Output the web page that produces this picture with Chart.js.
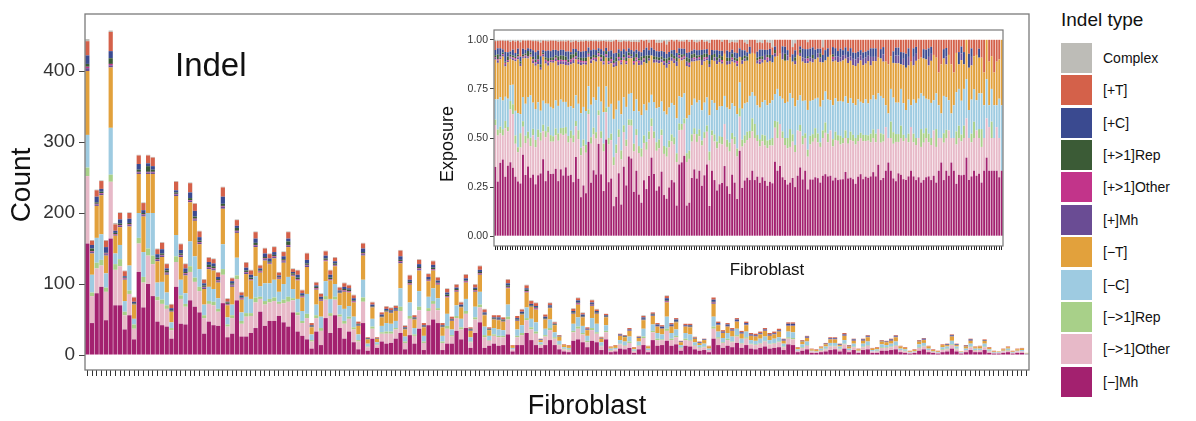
<!DOCTYPE html>
<html>
<head>
<meta charset="utf-8">
<title>Indel counts per fibroblast</title>
<script src="https://cdn.jsdelivr.net/npm/chart.js@4.4.1/dist/chart.umd.min.js"></script>
<style>
  body { margin: 0; background: #fff; font-family: "Liberation Sans", Arial, Helvetica, sans-serif; }
  #wrap { position: relative; width: 1196px; height: 421px; overflow: hidden; }
  #mainBox { position: absolute; left: 0; top: 0; width: 1040px; height: 421px; }
  #insetBox { position: absolute; left: 425px; top: 22px; width: 585px; height: 262px; }
  .txt { position: absolute; color: #111; white-space: nowrap; text-align: center; }
  #panelLabel { left: 175px; top: 48px; font-size: 33px; line-height: 33px; text-align: left; }
  #countTitle { left: -79px; top: 171px; width: 200px; font-size: 28px; line-height: 28px; transform: rotate(-90deg); }
  #mainXTitle { left: 437px; top: 392px; width: 300px; font-size: 27px; line-height: 27px; }
  #expTitle { left: 347px; top: 135px; width: 200px; font-size: 18px; line-height: 18px; transform: rotate(-90deg); }
  #insetXTitle { left: 667px; top: 261px; width: 200px; font-size: 17px; line-height: 17px; }
  #legend { position: absolute; left: 1061px; top: 0; width: 135px; height: 421px; color: #111; }
  #legend .lg-title { position: absolute; left: 0; top: 10px; font-size: 19px; line-height: 19px; white-space: nowrap; }
  #legend .lg-item { position: absolute; left: 0; height: 30px; width: 135px; }
  #legend .lg-swatch { position: absolute; left: 0; top: 0; width: 31px; height: 30px; }
  #legend .lg-text { position: absolute; left: 42px; top: 0; font-size: 14px; line-height: 30px; white-space: nowrap; }
</style>
</head>
<body>
<div id="wrap">
  <div id="mainBox"><canvas id="countChart"></canvas></div>
  <div id="panelLabel" class="txt">Indel</div>
  <div id="countTitle" class="txt">Count</div>
  <div id="mainXTitle" class="txt">Fibroblast</div>
  <div id="insetBox"><canvas id="exposureChart"></canvas></div>
  <div id="expTitle" class="txt">Exposure</div>
  <div id="insetXTitle" class="txt">Fibroblast</div>
  <div id="legend"><div class="lg-title">Indel type</div></div>
</div>
<script>
// counts per fibroblast sample, one array per indel type (bottom of stack first)
const mhDel = [
  157,45,87,96,49,164,70,70,36,56, 22,117,67,100,83,47,42,40,23,96, 44,43,77,68,60,30,47,42,41,73,
  25,30,77,26,26,31,38,61,41,48, 48,55,46,40,60,33,27,22,9,33, 14,52,31,56,38,23,33,18,8,45,
  6,23,10,19,16,17,23,31,8,28, 16,37,7,42,50,45,7,16,16,34, 22,38,10,31,46,10,13,16,13,14,
  29,5,14,14,31,21,14,10,14,21, 14,8,5,4,20,22,18,11,20,18, 7,22,4,5,9,8,10,3,8,14,
  4,21,13,14,20,13,15,6,13,12, 8,6,7,4,23,14,10,13,11,17, 10,14,9,8,10,12,9,10,11,7,
  15,14,4,6,8,3,3,4,5,7, 8,5,9,4,7,3,7,8,3,3, 6,6,7,8,4,3,2,3,6,8,
  4,3,2,4,5,9,5,2,4,7, 4,4,7,3,2,2,3,4,2,3, 3,1
];
const otherDel = [
  95,38,35,30,40,80,50,55,20,30, 15,40,35,40,45,30,30,25,12,35, 35,25,40,35,30,22,25,28,20,40,
  15,22,30,18,28,24,36,18,30,26, 28,17,27,35,17,23,18,30,10,19, 20,26,24,22,16,21,18,18,11,30,
  5,14,4,11,14,13,13,31,9,23, 11,26,10,20,22,18,10,21,10,18, 14,20,8,19,21,15,7,11,12,11,
  21,3,11,14,18,15,16,4,12,14, 9,6,3,3,12,15,11,7,15,12, 5,10,2,3,6,5,7,2,5,10,
  3,11,8,7,14,8,10,4,8,8, 5,4,4,3,14,9,7,8,7,9, 6,9,6,6,6,7,6,6,7,4,
  8,8,2,4,5,2,1,2,3,5, 4,3,6,3,4,2,4,5,2,2, 4,4,4,5,3,2,1,1,4,4,
  3,1,1,3,3,5,3,1,3,4, 2,3,4,2,1,1,2,2,1,2, 2,0
];
const repDel = [
  12,5,8,8,6,10,8,10,5,5, 6,8,8,10,12,5,6,5,3,8, 5,4,8,6,6,4,4,5,4,8,
  3,4,5,4,5,4,7,3,5,5, 5,3,5,7,3,4,3,6,2,4, 4,5,4,4,3,4,3,3,2,6,
  1,3,1,2,3,3,2,6,2,4, 2,5,2,4,4,3,2,4,2,3, 3,4,1,3,4,3,1,2,2,2,
  4,0,2,3,3,3,3,1,2,3, 2,1,1,1,2,3,2,2,3,2, 1,2,1,0,1,1,2,1,1,2,
  0,2,2,1,3,2,2,1,2,1, 1,1,1,0,3,2,1,2,1,2, 1,2,1,1,1,1,1,1,1,1,
  2,2,0,1,1,0,0,1,1,1, 1,1,1,0,1,0,1,1,0,1, 1,1,1,1,0,1,0,0,1,1,
  0,0,0,1,1,1,1,0,0,1, 1,0,1,1,0,0,0,1,0,0, 0,0
];
const cDel = [
  46,25,35,36,20,66,15,20,15,35, 8,35,35,50,60,20,25,18,8,30, 22,15,35,30,25,15,20,18,15,35,
  10,15,25,12,23,20,30,15,25,22, 25,14,22,28,13,19,14,28,8,15, 16,21,20,18,13,17,15,15,8,25,
  4,11,3,9,12,11,10,26,7,19, 9,22,8,16,18,14,8,17,8,15, 12,17,6,15,18,12,6,9,9,8,
  17,2,9,11,15,12,13,3,9,12, 7,5,2,2,10,13,10,7,14,12, 5,8,2,2,5,5,7,2,5,11,
  2,9,8,7,17,8,9,3,8,8, 4,3,4,2,14,8,6,8,7,9, 6,8,5,5,6,6,5,6,6,4,
  8,8,2,4,5,1,1,2,3,4, 4,3,5,2,4,1,4,5,2,2, 4,3,4,5,2,2,1,1,4,4,
  2,1,1,3,3,5,3,1,2,4, 2,2,4,2,1,1,1,2,1,1, 2,1
];
const tDel = [
  90,30,45,55,25,85,25,25,30,55, 20,55,50,55,55,30,35,25,15,55, 32,25,55,50,35,22,25,26,22,50,
  17,25,35,18,32,26,41,19,32,27, 30,18,30,42,18,26,19,38,10,21, 22,28,26,25,17,24,19,20,12,34,
  6,16,5,12,16,15,14,35,10,25, 12,29,12,22,25,19,12,23,12,19, 16,23,9,21,24,16,8,12,13,12,
  23,3,12,15,21,17,18,3,13,16, 10,6,3,3,14,18,12,8,17,14, 5,11,2,3,6,6,8,2,5,12,
  3,12,9,8,20,9,10,4,9,10, 5,3,5,3,18,9,7,9,8,10, 7,9,6,6,6,8,6,6,8,4,
  8,9,2,4,5,2,2,2,3,5, 5,2,6,3,4,2,4,6,2,2, 4,4,4,6,3,2,1,2,4,4,
  3,2,1,3,2,6,2,1,3,4, 2,3,4,2,1,1,2,2,1,2, 2,1
];
const mhIns = [
  4,2,2,2,2,3,1,2,1,2, 1,2,2,2,2,2,2,2,1,2, 2,2,2,2,2,2,2,2,2,3,
  1,2,2,1,2,1,2,1,2,1, 2,1,2,2,1,1,1,2,1,1, 1,1,1,1,1,1,1,1,1,2,
  0,1,0,1,1,1,1,2,1,1, 1,2,1,1,1,1,1,1,1,1, 1,1,1,1,1,1,0,1,1,1,
  1,0,1,1,1,1,1,0,1,1, 0,0,0,0,1,1,1,1,1,1, 0,1,0,0,1,0,1,0,0,1,
  0,1,1,1,1,1,1,0,1,1, 0,0,0,0,1,1,1,1,1,1, 1,1,1,1,1,1,1,1,1,1,
  1,1,0,0,1,0,0,0,0,1, 1,0,1,0,1,0,1,1,0,0, 0,0,1,1,0,0,0,0,0,1,
  0,0,0,0,0,1,0,0,0,1, 0,0,0,0,0,0,0,0,0,0, 0,0
];
const otherIns = [
  2,1,1,1,1,2,1,1,1,1, 0,1,1,1,1,1,1,1,0,1, 1,1,1,1,1,1,1,1,1,1,
  1,1,1,1,1,1,1,1,1,1, 1,1,1,1,1,1,1,1,0,1, 1,1,1,1,0,1,1,1,0,1,
  0,0,0,0,0,0,0,1,0,1, 0,1,0,1,1,1,0,1,0,1, 0,1,0,1,1,0,0,0,0,0,
  1,0,0,0,1,0,1,0,0,0, 0,0,0,0,0,1,0,0,1,0, 0,0,0,0,0,0,0,0,0,0,
  0,0,0,0,1,0,0,0,0,0, 0,0,0,0,1,0,0,0,0,0, 0,0,0,0,0,0,0,0,0,0,
  0,0,0,0,0,0,0,0,0,0, 0,0,0,0,0,0,0,0,0,0, 0,0,0,0,0,0,0,0,0,0,
  0,0,0,0,0,0,0,0,0,0, 0,0,0,0,0,0,0,0,0,0, 0,0
];
const repIns = [
  4,4,2,2,1,8,2,2,1,2, 1,3,2,8,3,2,2,3,1,2, 2,2,3,3,2,2,3,3,2,3,
  2,2,4,1,2,2,3,1,2,2, 2,1,2,5,2,2,1,2,1,2, 1,2,2,2,1,2,2,1,1,2,
  1,1,0,1,1,1,1,2,1,2, 1,2,1,1,2,1,1,2,1,2, 1,1,1,2,2,1,1,1,1,1,
  2,0,1,1,2,1,1,0,1,1, 1,0,0,0,1,1,1,0,1,1, 0,1,0,0,0,1,0,0,0,1,
  0,1,0,0,1,0,1,0,0,1, 0,0,0,0,1,0,0,0,0,0, 0,0,0,0,0,0,0,0,0,0,
  0,0,0,0,0,0,0,0,0,0, 0,0,0,0,0,0,0,0,0,0, 0,0,0,0,0,0,0,0,0,0,
  0,0,0,0,0,0,0,0,0,0, 0,0,0,0,0,0,0,0,0,0, 0,0
];
const cIns = [
  12,5,8,4,8,10,3,6,2,6, 2,8,4,4,5,5,6,3,3,3, 5,5,8,8,5,3,4,4,3,10,
  1,3,3,3,4,4,6,3,5,4, 4,2,4,4,2,4,3,5,1,2, 3,4,4,3,2,3,2,3,1,5,
  1,2,1,2,2,2,2,5,1,3, 1,4,1,3,4,3,1,3,1,2, 2,3,1,2,3,2,1,1,2,1,
  3,0,2,2,2,2,2,1,2,2, 1,1,0,0,2,3,2,1,2,2, 1,1,0,0,1,1,1,0,1,2,
  0,1,2,2,3,2,2,1,1,1, 1,1,1,0,3,2,1,2,1,2, 1,2,1,1,1,1,1,1,1,1,
  2,2,0,1,1,0,0,0,1,1, 1,1,1,1,1,0,1,1,0,0, 1,1,1,1,0,0,0,0,1,1,
  0,0,0,0,1,1,1,0,1,1, 0,0,1,0,0,0,0,0,0,0, 0,0
];
const tIns = [
  20,6,9,11,9,27,9,9,7,8, 6,12,10,11,12,7,9,6,5,12, 8,6,13,10,8,5,6,6,6,13,
  4,4,8,4,7,6,9,4,7,6, 7,4,6,9,4,6,4,9,3,4, 4,6,6,5,4,5,4,4,3,7,
  1,3,1,3,3,3,3,8,2,6, 3,6,3,4,5,4,3,5,3,4, 3,5,2,4,5,4,2,3,3,3,
  5,1,3,3,4,4,4,1,3,3, 2,1,1,1,3,3,2,2,3,2, 1,2,1,1,1,1,2,1,1,2,
  1,2,2,2,3,2,2,1,2,2, 1,1,1,1,3,2,2,2,2,2, 2,2,2,2,2,2,2,2,2,1,
  2,2,1,1,1,1,1,1,1,1, 1,1,2,1,1,1,1,1,1,1, 1,1,1,1,1,1,1,1,1,1,
  1,1,1,1,1,1,1,0,1,1, 1,1,1,1,1,0,1,1,1,1, 1,0
];
const complexCounts = [
  3,1,1,1,1,2,2,1,1,1, 1,1,1,1,1,1,1,1,1,1, 1,1,1,1,1,1,1,1,1,1,
  1,1,1,1,1,1,1,1,1,1, 1,1,1,1,1,1,1,1,0,1, 1,1,1,1,1,1,1,1,0,1,
  0,1,0,0,1,1,1,1,1,1, 0,1,0,1,1,1,0,1,0,1, 1,1,0,1,1,1,0,0,0,0,
  1,0,0,1,1,1,1,0,0,1, 1,0,0,0,1,1,1,0,1,1, 1,0,0,0,0,0,0,0,1,1,
  0,0,0,0,1,0,0,0,0,0, 1,0,0,0,0,0,0,0,0,0, 0,0,0,0,0,0,0,0,0,0,
  0,0,0,0,0,0,0,0,0,0, 0,0,0,0,0,0,0,0,0,0, 0,0,0,0,0,0,0,0,0,0,
  0,0,0,0,0,0,0,0,0,0, 0,0,0,0,0,0,0,0,0,0, 0,0
];

const typeLabels = ['[−]Mh', '[−>1]Other', '[−>1]Rep', '[−C]', '[−T]', '[+]Mh', '[+>1]Other', '[+>1]Rep', '[+C]', '[+T]', 'Complex'];
const typeCounts = [mhDel, otherDel, repDel, cDel, tDel, mhIns, otherIns, repIns, cIns, tIns, complexCounts];
const countTicks = [0, 100, 200, 300, 400];
const exposureTicks = [0, 0.25, 0.5, 0.75, 1];
const sampleIds = mhDel.map((_, i) => 'Fibroblast ' + (i + 1));

const palette = ['#a3216f', '#e7b9c8', '#a8d089', '#9ecbe1', '#e2a13c', '#6a4c94', '#c2348a', '#3b5b36', '#3a4a90', '#d4614a', '#bdbcb7'];
const fontFamily = '"Liberation Sans", Arial, Helvetica, sans-serif';
Chart.defaults.font.family = fontFamily;

// white panel + grey frame around the plotting area (ggplot style)
const panelFrame = {
  id: 'panelFrame',
  beforeDraw(chart) {
    const { ctx, chartArea: a } = chart;
    ctx.save();
    ctx.fillStyle = '#fff';
    ctx.fillRect(a.left, a.top, a.right - a.left, a.bottom - a.top);
    ctx.restore();
  },
  afterDraw(chart, args, opts) {
    const { ctx, chartArea: a } = chart;
    ctx.save();
    ctx.strokeStyle = opts.color || '#777';
    ctx.lineWidth = opts.width || 1.2;
    ctx.strokeRect(a.left, a.top, a.right - a.left, a.bottom - a.top);
    ctx.restore();
  }
};

const totals = sampleIds.map((_, i) => typeCounts.reduce((s, arr) => s + arr[i], 0));

function buildDatasets(asShare) {
  return typeLabels.map((label, k) => ({
    label: label,
    data: asShare ? typeCounts[k].map((v, i) => v / totals[i]) : typeCounts[k],
    backgroundColor: palette[k],
    borderWidth: 0,
    barPercentage: asShare ? 0.76 : 0.9,
    categoryPercentage: 1
  }));
}

function axisFont(size) { return { family: fontFamily, size: size, lineHeight: 1 }; }

new Chart(document.getElementById('countChart'), {
  type: 'bar',
  data: { labels: sampleIds, datasets: buildDatasets(false) },
  options: {
    responsive: true,
    maintainAspectRatio: false,
    animation: false,
    layout: { padding: { top: 14, right: 11, left: 0, bottom: 0 } },
    plugins: { legend: { display: false }, tooltip: { enabled: false }, panelFrame: { color: '#7a7a7a', width: 1.3 } },
    scales: {
      x: {
        stacked: true,
        afterFit: s => { s.height = 51; },
        ticks: { display: false },
        grid: { offset: false, drawOnChartArea: false, drawTicks: true, tickLength: 6, color: '#333', lineWidth: 1 },
        border: { display: false }
      },
      y: {
        stacked: true,
        min: -21.1,
        max: 480.3,
        afterFit: s => { s.width = 85; },
        afterBuildTicks: s => { s.ticks = countTicks.map(v => ({ value: v })); },
        ticks: { color: '#333', padding: 4, font: axisFont(19) },
        grid: { drawOnChartArea: false, drawTicks: true, tickLength: 6, color: '#444' },
        border: { display: false }
      }
    }
  },
  plugins: [panelFrame]
});

new Chart(document.getElementById('exposureChart'), {
  type: 'bar',
  data: { labels: sampleIds, datasets: buildDatasets(true) },
  options: {
    responsive: true,
    maintainAspectRatio: false,
    animation: false,
    layout: { padding: { top: 8, right: 7, left: 0, bottom: 0 } },
    plugins: { legend: { display: false }, tooltip: { enabled: false }, panelFrame: { color: '#7a7a7a', width: 1.2 } },
    scales: {
      x: {
        stacked: true,
        afterFit: s => { s.height = 38; },
        ticks: { display: false },
        grid: { offset: false, drawOnChartArea: false, drawTicks: true, tickLength: 4, color: '#222', lineWidth: 1 },
        border: { display: false }
      },
      y: {
        stacked: true,
        min: -0.05,
        max: 1.05,
        afterFit: s => { s.width = 69; },
        afterBuildTicks: s => { s.ticks = exposureTicks.map(v => ({ value: v })); },
        ticks: { color: '#333', padding: 2, font: axisFont(10.5), callback: v => v.toFixed(2) },
        grid: { drawOnChartArea: false, drawTicks: true, tickLength: 4, color: '#444' },
        border: { display: false }
      }
    }
  },
  plugins: [panelFrame]
});

// legend, top entry is the top of the stack
const legendEl = document.getElementById('legend');
typeLabels.slice().reverse().forEach((label, j) => {
  const k = typeLabels.length - 1 - j;
  const item = document.createElement('div');
  item.className = 'lg-item';
  item.style.top = (42.7 + 32.4 * j) + 'px';
  item.innerHTML = `<div class="lg-swatch" style="background:${palette[k]}"></div><div class="lg-text">${label}</div>`;
  legendEl.appendChild(item);
});
</script>
</body>
</html>
